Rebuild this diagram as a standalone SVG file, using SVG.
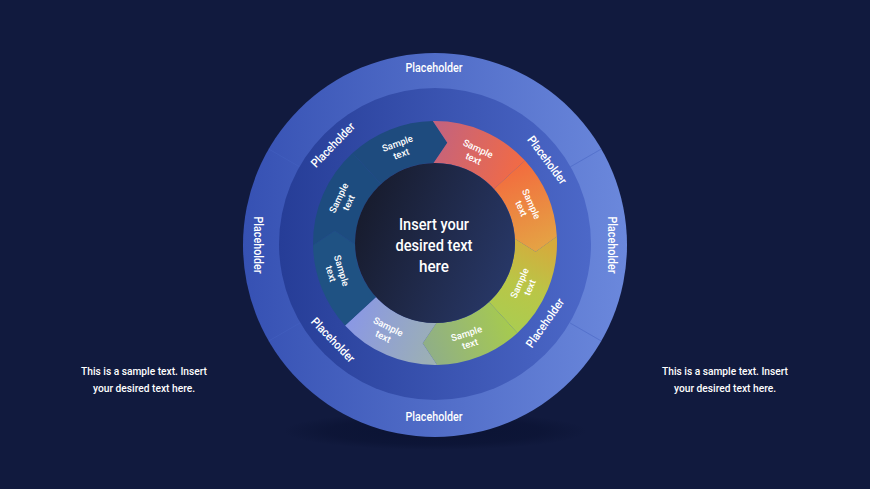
<svg xmlns="http://www.w3.org/2000/svg" width="870" height="489" viewBox="0 0 870 489">
<defs>
<linearGradient id="gOuter" x1="0" y1="0" x2="1" y2="0"><stop offset="0" stop-color="#3651b3"/><stop offset="1" stop-color="#6b88dc"/></linearGradient>
<linearGradient id="gMid" x1="0" y1="0" x2="1" y2="0"><stop offset="0" stop-color="#263d97"/><stop offset="1" stop-color="#4c68c8"/></linearGradient>
<linearGradient id="gCore" x1="0" y1="0.3" x2="1" y2="0.7"><stop offset="0" stop-color="#171b2c"/><stop offset="1" stop-color="#283868"/></linearGradient>
<linearGradient id="gSalmon" gradientUnits="userSpaceOnUse" x1="435" y1="140" x2="525" y2="170"><stop offset="0" stop-color="#c5637c"/><stop offset="1" stop-color="#f46b42"/></linearGradient>
<linearGradient id="gOrange" gradientUnits="userSpaceOnUse" x1="510" y1="165" x2="545" y2="245"><stop offset="0" stop-color="#f36a3e"/><stop offset="1" stop-color="#e5a244"/></linearGradient>
<linearGradient id="gYellow" gradientUnits="userSpaceOnUse" x1="540" y1="240" x2="500" y2="330"><stop offset="0" stop-color="#d6aa3c"/><stop offset="0.5" stop-color="#b9c647"/><stop offset="1" stop-color="#a9cd52"/></linearGradient>
<linearGradient id="gGreen" gradientUnits="userSpaceOnUse" x1="510" y1="320" x2="425" y2="350"><stop offset="0" stop-color="#a6ca4f"/><stop offset="1" stop-color="#8fae88"/></linearGradient>
<linearGradient id="gLav" gradientUnits="userSpaceOnUse" x1="350" y1="320" x2="435" y2="350"><stop offset="0" stop-color="#8a98e4"/><stop offset="1" stop-color="#9cb0b4"/></linearGradient>
<radialGradient id="gShadow" cx="0.5" cy="0.5" r="0.5"><stop offset="0" stop-color="#0a1232" stop-opacity="0.9"/><stop offset="0.7" stop-color="#0a1232" stop-opacity="0.6"/><stop offset="1" stop-color="#0a1232" stop-opacity="0"/></radialGradient>
</defs>
<style>
.t{fill:#ffffff;font-family:Roboto,"Liberation Sans",sans-serif;text-anchor:middle;dominant-baseline:central}
.ph{font-size:12px;font-weight:500}
.st{font-size:9.5px;font-weight:500}
.core{font-size:16px;font-weight:500}
.side{font-size:11px;font-weight:500}
.div{stroke:#4562c2;stroke-width:1;opacity:0.5}
</style>
<rect width="870" height="489" fill="#111a3e"/>
<ellipse cx="435" cy="431" rx="152" ry="19" fill="url(#gShadow)"/>
<g id="outer-ring">
<circle cx="435" cy="245" r="192" fill="url(#gOuter)"/>
<line class="div" x1="570.1" y1="167" x2="601.3" y2="149"/>
<line class="div" x1="570.1" y1="323" x2="601.3" y2="341"/>
<line class="div" x1="299.9" y1="167" x2="268.7" y2="149"/>
<line class="div" x1="299.9" y1="323" x2="268.7" y2="341"/>
<text class="t ph" x="434" y="68" textLength="57" lengthAdjust="spacingAndGlyphs">Placeholder</text>
<text class="t ph" x="434" y="417" textLength="57" lengthAdjust="spacingAndGlyphs">Placeholder</text>
<text class="t ph" transform="translate(258,245) rotate(90)" textLength="57" lengthAdjust="spacingAndGlyphs">Placeholder</text>
<text class="t ph" transform="translate(612,245) rotate(90)" textLength="57" lengthAdjust="spacingAndGlyphs">Placeholder</text>
</g>
<g id="middle-ring">
<circle cx="435" cy="244" r="156" fill="url(#gMid)"/>
<text class="t ph" transform="translate(333,145) rotate(-46)" textLength="57" lengthAdjust="spacingAndGlyphs">Placeholder</text>
<text class="t ph" transform="translate(547,160) rotate(53)" textLength="57" lengthAdjust="spacingAndGlyphs">Placeholder</text>
<text class="t ph" transform="translate(545,323) rotate(-55)" textLength="57" lengthAdjust="spacingAndGlyphs">Placeholder</text>
<text class="t ph" transform="translate(333,340) rotate(46)" textLength="57" lengthAdjust="spacingAndGlyphs">Placeholder</text>
</g>
<g id="seg-top">
<path d="M352.58,153.05 A122,122 0 0 1 432.87,121.02 L447.31,142.75 L433.6,163.01 A80,80 0 0 0 380.95,184.02 Z" fill="#1e4b7e"/>
<g transform="translate(399,148) rotate(-20)"><text class="t st" y="-5">Sample</text><text class="t st" y="6">text</text></g>
</g>
<g id="seg-salmon">
<path d="M432.87,121.02 A122,122 0 0 1 524.95,160.58 L493.98,188.95 A80,80 0 0 0 433.6,163.01 L447.31,142.75 Z" fill="url(#gSalmon)"/>
<g transform="translate(476,153) rotate(25)"><text class="t st" y="-5">Sample</text><text class="t st" y="6">text</text></g>
</g>
<g id="seg-orange">
<path d="M524.95,160.58 A122,122 0 0 1 556.83,236.61 L535.62,251.8 L514.89,238.81 A80,80 0 0 0 493.98,188.95 Z" fill="url(#gOrange)"/>
<g transform="translate(527,206) rotate(66)"><text class="t st" y="-5">Sample</text><text class="t st" y="6">text</text></g>
</g>
<g id="seg-yellow">
<path d="M556.83,236.61 A122,122 0 0 1 517.42,332.95 L489.05,301.98 A80,80 0 0 0 514.89,238.81 L535.62,251.8 Z" fill="url(#gYellow)"/>
<g transform="translate(524,285) rotate(-66)"><text class="t st" y="-5">Sample</text><text class="t st" y="6">text</text></g>
</g>
<g id="seg-green">
<path d="M517.42,332.95 A122,122 0 0 1 437.13,364.98 L422.69,343.25 L436.4,322.99 A80,80 0 0 0 489.05,301.98 Z" fill="url(#gGreen)"/>
<g transform="translate(468,338) rotate(-18)"><text class="t st" y="-5">Sample</text><text class="t st" y="6">text</text></g>
</g>
<g id="seg-lavender">
<path d="M437.13,364.98 A122,122 0 0 1 345.05,325.42 L376.02,297.05 A80,80 0 0 0 436.4,322.99 L422.69,343.25 Z" fill="url(#gLav)"/>
<g transform="translate(386,331) rotate(27)"><text class="t st" y="-5">Sample</text><text class="t st" y="6">text</text></g>
</g>
<g id="seg-left">
<path d="M345.05,325.42 A122,122 0 0 1 313.02,245.13 L334.75,230.69 L355.01,244.4 A80,80 0 0 0 376.02,297.05 Z" fill="#1f5283"/>
<g transform="translate(337,272) rotate(73)"><text class="t st" y="-5">Sample</text><text class="t st" y="6">text</text></g>
</g>
<g id="seg-upper-left">
<path d="M313.02,245.13 A122,122 0 0 1 352.58,153.05 L380.95,184.02 A80,80 0 0 0 355.01,244.4 L334.75,230.69 Z" fill="#1d4c7f"/>
<g transform="translate(343,200) rotate(-64)"><text class="t st" y="-5">Sample</text><text class="t st" y="6">text</text></g>
</g>
<g id="core">
<circle cx="435" cy="243" r="80" fill="url(#gCore)"/>
<text class="t core" x="434" y="224" textLength="70" lengthAdjust="spacingAndGlyphs">Insert your</text>
<text class="t core" x="434" y="245" textLength="77" lengthAdjust="spacingAndGlyphs">desired text</text>
<text class="t core" x="434" y="266" textLength="30" lengthAdjust="spacingAndGlyphs">here</text>
</g>
<g id="left-note">
<text class="t side" x="144" y="371" textLength="126" lengthAdjust="spacingAndGlyphs">This is a sample text. Insert</text>
<text class="t side" x="144" y="388" textLength="102" lengthAdjust="spacingAndGlyphs">your desired text here.</text>
</g>
<g id="right-note">
<text class="t side" x="725" y="371" textLength="126" lengthAdjust="spacingAndGlyphs">This is a sample text. Insert</text>
<text class="t side" x="725" y="388" textLength="102" lengthAdjust="spacingAndGlyphs">your desired text here.</text>
</g>
</svg>
